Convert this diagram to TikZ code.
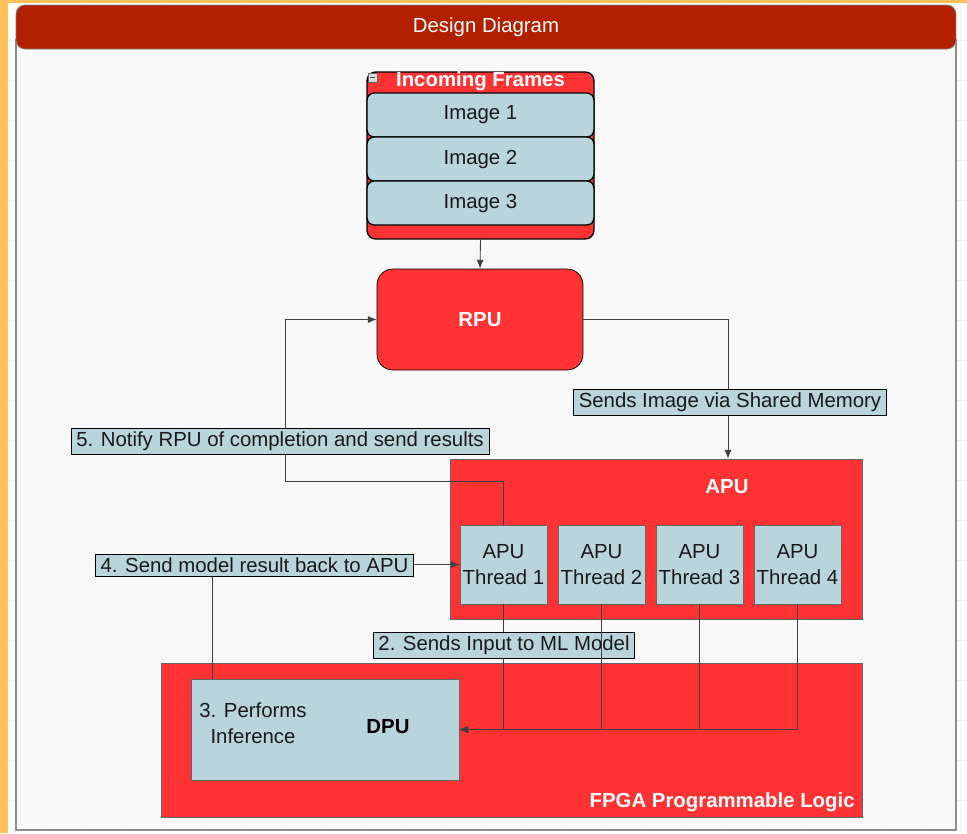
\documentclass[tikz,border=0pt]{standalone}
\usepackage{fontspec}
\setmainfont{Liberation Sans}
\usetikzlibrary{arrows.meta}
\definecolor{hdred}{HTML}{B22000}
\definecolor{boxred}{HTML}{FF3333}
\definecolor{paleblue}{HTML}{BAD4DB}
\definecolor{swimbg}{HTML}{F8F8F8}
\definecolor{deskorange}{HTML}{FFC05A}
\begin{document}
\begin{tikzpicture}[x=0.02cm,y=-0.02cm,
    font=\fontsize{11.6pt}{14.6pt}\selectfont,
    redbox/.style={draw=black!60,fill=boxred,inner sep=0pt},
    bluebox/.style={draw=black!60,fill=paleblue,text=black!90,inner sep=0pt,align=center},
    rowbox/.style={draw=black,line width=0.8pt,fill=paleblue,rounded corners=4pt,text=black!90,
      minimum width=4.54cm,minimum height=0.88cm,inner sep=0pt},
    tag/.style={draw=black,fill=paleblue,text=black!90,inner xsep=3pt,inner ysep=2pt},
    title/.style={text=white,font=\fontsize{11.6pt}{14.6pt}\selectfont\bfseries},
    link/.style={draw=black!75,line width=0.5pt,-{Latex[length=5pt,width=4pt]}}]
  \useasboundingbox (0,0) rectangle (967,833);
  % page background
  \fill[white] (0,0) rectangle (967,833);
  \foreach \g in {40,80,...,960} \draw[black!6,line width=0.3pt] (\g,0) -- (\g,833);
  \foreach \g in {40,80,...,820} \draw[black!6,line width=0.3pt] (0,\g) -- (967,\g);
  \fill[deskorange] (0,0) rectangle (8,833);
  \fill[deskorange] (0,0) rectangle (967,3);
  % swimlane
  \draw[black!45,fill=swimbg,line width=0.8pt] (16,40) rectangle (956,830);
  \node[draw=black!50,fill=hdred,rounded corners=5pt,minimum width=18.8cm,minimum height=0.88cm,
    text=white] (head) at (486,27) {Design Diagram};
  % incoming frames
  \node[draw=black,line width=0.8pt,fill=boxred,rounded corners=5pt,minimum width=4.54cm,
    minimum height=3.34cm] (frames) at (480.5,155.5) {};
  \node[title,inner sep=0pt] (framestitle) at (480.5,81) {Incoming Frames};
  \node[draw=black!60,fill=black!15,minimum size=5pt,inner sep=0pt] (collapse) at (372.5,77.5) {};
  \draw[black!70,line width=0.4pt] (collapse.west) ++(1pt,0) -- ++(3pt,0);
  \node[rowbox] (img1) at (480.5,115) {Image 1};
  \node[rowbox] (img2) at (480.5,159) {Image 2};
  \node[rowbox] (img3) at (480.5,203) {Image 3};
  % rpu
  \node[draw=black,fill=boxred,rounded corners=9pt,minimum width=4.12cm,minimum height=2.02cm,
    title] (rpu) at (480,319.5) {RPU};
  % apu
  \node[redbox,minimum width=8.24cm,minimum height=3.2cm] (apu) at (656,539) {};
  \node[title,inner sep=0pt] (apulabel) at (727,487) {APU};
  \foreach \i/\x in {1/503.5,2/601.5,3/699.5,4/797.5}
    \node[bluebox,minimum width=1.74cm,minimum height=1.58cm] (t\i) at (\x,564.5) {APU\\Thread \i};
  % fpga
  \node[redbox,minimum width=14.02cm,minimum height=3.08cm] (fpga) at (511.5,740) {};
  \node[title,anchor=east,inner sep=0pt] (fpgalabel) at (855,802) {FPGA Programmable Logic};
  \node[bluebox,minimum width=5.36cm,minimum height=2.02cm] (dpu) at (325,729.5) {};
  \node[title,text=black,inner sep=0pt] (dpulabel) at (388,727) {DPU};
  \node[align=center,text=black!90,inner sep=0pt] (infer) at (253,723) {3. Performs\\Inference};
  % connectors
  \coordinate (shmx) at (728,0);
  \coordinate (ntf) at (285,481);
  \coordinate (bkx) at (212,0);
  \draw[link] (frames.south) -- (rpu.north);
  \draw[link] (rpu.east) -| (shmx |- apu.north);
  \node[tag] (sendimg) at (730,402.5) {Sends Image via Shared Memory};
  \draw[link] (t1.north) |- (ntf) |- (rpu.west);
  \node[tag] (notify) at (280,441.5) {5. Notify RPU of completion and send results};
  \draw[link] (bkx |- dpu.north) |- (t1.west);
  \node[tag] (sendback) at (254.5,565.5) {4. Send model result back to APU};
  \draw[link] (t1.south) |- (dpu.east);
  \node[tag] (sendin) at (504,645.5) {2. Sends Input to ML Model};
  \foreach \i in {2,3,4}
    \draw[link] (t\i.south) |- (dpu.east);
\end{tikzpicture}
\end{document}
